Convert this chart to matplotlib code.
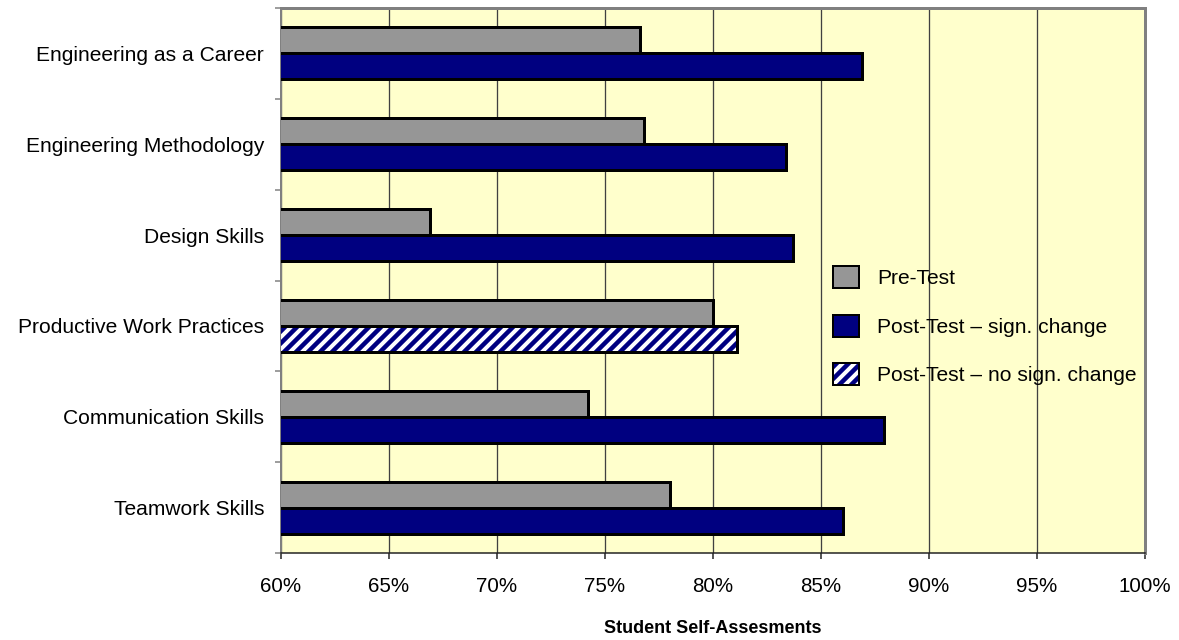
import numpy as np
import matplotlib
matplotlib.use("Agg")
import matplotlib.pyplot as plt
from matplotlib.patches import Patch
from matplotlib.legend_handler import HandlerTuple
from matplotlib.ticker import FixedLocator, FuncFormatter

# data (percent)
categories = ["Engineering as a Career", "Engineering Methodology", "Design Skills",
              "Productive Work Practices", "Communication Skills", "Teamwork Skills"]
pre_test = [76.6, 76.8, 66.9, 80.0, 74.2, 78.0]
post_test = [86.9, 83.4, 83.7, 81.1, 87.9, 86.0]
significant = [True, True, True, False, True, True]
x_ticks = [60, 65, 70, 75, 80, 85, 90, 95, 100]

GRAY = "#969696"
NAVY = "#000080"
BG = "#FFFFCC"
FRAME = "#808080"

plt.rcParams.update({"font.family": ["Liberation Sans", "DejaVu Sans"],
                     "hatch.linewidth": 4.5})

DPI = 72
fig = plt.figure(figsize=(1179 / DPI, 640 / DPI), dpi=DPI)
ax = fig.add_axes([281 / 1179, 87 / 640, 864 / 1179, 545 / 640])
ax.set_facecolor(BG)

y = np.arange(len(categories))
h = 0.286
sig = np.array(significant)
post = np.array(post_test)

ax.barh(y - h / 2, pre_test, height=h, color=GRAY, edgecolor="black",
        linewidth=3, zorder=3)
ax.barh(y[sig] + h / 2, post[sig], height=h, color=NAVY, edgecolor="black",
        linewidth=3, zorder=3)
# non-significant: hatched navy on white, black outline on top
ax.barh(y[~sig] + h / 2, post[~sig], height=h, color="white", edgecolor=NAVY,
        hatch="//", linewidth=0, zorder=3)
ax.barh(y[~sig] + h / 2, post[~sig], height=h, fill=False, edgecolor="black",
        linewidth=3, zorder=4)

ax.set_xlim(60, 100)
ax.set_ylim(len(categories) - 0.5, -0.5)

ax.xaxis.set_major_locator(FixedLocator(x_ticks))
ax.xaxis.set_major_formatter(FuncFormatter(lambda v, p: f"{v:.0f}%"))
ax.set_yticks(y)
ax.set_yticklabels(categories)
ax.yaxis.set_minor_locator(FixedLocator(np.arange(-0.5, len(categories), 1.0)))

ax.tick_params(axis="y", which="major", length=0, pad=17, labelsize=21)
ax.tick_params(axis="y", which="minor", length=6, width=1.5, color=FRAME)
ax.tick_params(axis="x", length=6, width=1.5, color="#202020", pad=18, labelsize=20.5)

ax.set_axisbelow(True)
ax.xaxis.grid(True, color="#404040", linewidth=1.3)

ax.spines["top"].set_color(FRAME)
ax.spines["top"].set_linewidth(3)
ax.spines["right"].set_color(FRAME)
ax.spines["right"].set_linewidth(3)
ax.spines["left"].set_color(FRAME)
ax.spines["left"].set_linewidth(2)
ax.spines["bottom"].set_color("#202020")
ax.spines["bottom"].set_linewidth(1.5)

ax.set_xlabel("Student Self-Assesments", fontsize=18, fontweight="bold", labelpad=24)

handles = [Patch(facecolor=GRAY, edgecolor="black", linewidth=2),
           Patch(facecolor=NAVY, edgecolor="black", linewidth=2),
           (Patch(facecolor="white", edgecolor=NAVY, hatch="//", linewidth=0),
            Patch(fill=False, edgecolor="black", linewidth=2))]
labels = ["Pre-Test", "Post-Test – sign. change", "Post-Test – no sign. change"]
ax.legend(handles, labels, loc="upper left", bbox_to_anchor=(0.639, 0.526),
          frameon=False, fontsize=21, handlelength=1.24, handleheight=1.24,
          handletextpad=0.86, labelspacing=1.25, borderpad=0, borderaxespad=0,
          handler_map={tuple: HandlerTuple(ndivide=1, pad=0)})

fig.savefig("out.png", dpi=DPI)
